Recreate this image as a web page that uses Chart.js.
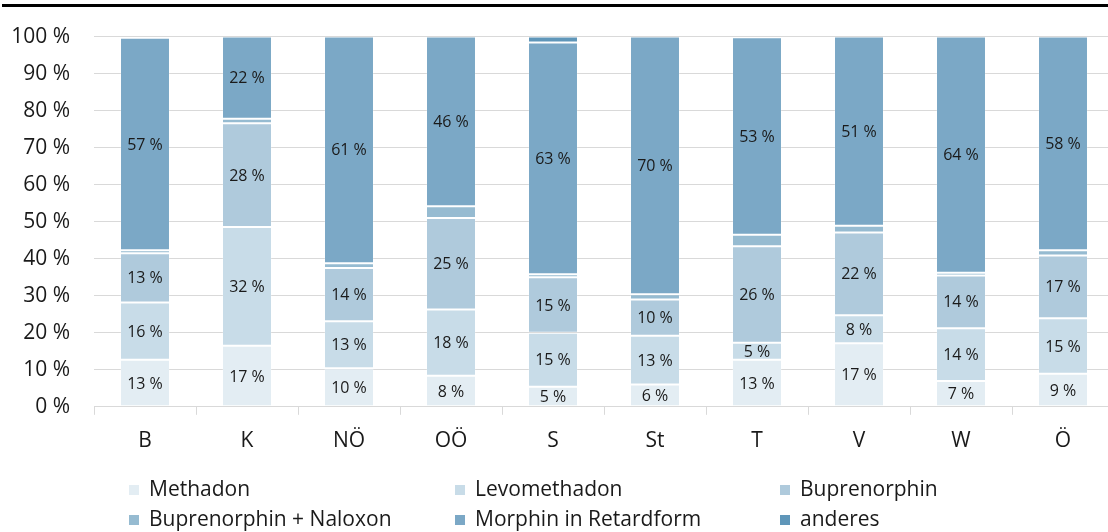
<!DOCTYPE html>
<html>
<head>
<meta charset="utf-8">
<script src="https://cdn.jsdelivr.net/npm/chart.js@4"></script>
<style>
    html, body { margin: 0; padding: 0; background: #fff; overflow: hidden; }
    #topline { position: absolute; left: 2px; top: 4px; width: 1106px; height: 3px; background: #000; }
    #wrap { position: absolute; left: 0; top: 0; width: 1114px; height: 532px; }
</style>
</head>
<body>
<div id="topline"></div>
<div id="wrap"><canvas id="graphCanvas" width="1114" height="532"></canvas></div>
<script>
// Bundeslaender
var categories = ['B', 'K', 'NÖ', 'OÖ', 'S', 'St', 'T', 'V', 'W', 'Ö'];

// Anteile in Prozent
var methadon      = [12.7, 16.5, 10.4,  8.4,  5.4,  6.0, 12.7, 17.2,  7.0,  8.9];
var levomethadon  = [15.5, 32.1, 12.7, 17.9, 14.6, 13.2,  4.6,  7.5, 14.2, 15.0];
var buprenorphin  = [13.3, 28.0, 14.4, 24.7, 15.0,  9.8, 26.1, 22.4, 14.3, 17.0];
var bupNaloxon    = [ 0.8,  1.2,  1.3,  3.2,  0.8,  1.4,  3.1,  1.8,  0.7,  1.4];
var morphin       = [57.4, 22.2, 61.2, 45.8, 62.6, 69.6, 53.3, 51.1, 63.8, 57.7];
var anderes       = [ 0.3,  0.0,  0.0,  0.0,  1.6,  0.0,  0.2,  0.0,  0.0,  0.0];

var yTicks = [0, 10, 20, 30, 40, 50, 60, 70, 80, 90, 100];

var fontFam = "'Open Sans', 'Noto Sans', sans-serif";

function ds(label, data, color) {
    return {
        label: label,
        data: data,
        backgroundColor: color,
        borderColor: 'rgba(255,255,255,0.18)',
        borderWidth: 1,
        borderSkipped: false,
        barPercentage: 0.98,
        categoryPercentage: 0.5
    };
}

// Beschriftung der Segmente
var segmentLabels = {
    id: 'segmentLabels',
    afterDatasetsDraw: function (chart) {
        var ctx = chart.ctx;
        ctx.save();
        ctx.font = '16px ' + fontFam;
        ctx.fillStyle = '#1a1a1a';
        ctx.textAlign = 'center';
        ctx.textBaseline = 'middle';
        chart.data.datasets.forEach(function (d, i) {
            var meta = chart.getDatasetMeta(i);
            meta.data.forEach(function (bar, j) {
                var v = d.data[j];
                if (v < 4) return;
                var p = bar.getProps(['x', 'y', 'base'], true);
                ctx.fillText(Math.round(v) + ' %', p.x, (p.y + p.base) / 2 + 1);
            });
        });
        ctx.restore();
    }
};

// Legende in drei Spalten
var gridLegend = {
    id: 'gridLegend',
    afterDraw: function (chart) {
        var ctx = chart.ctx;
        var colX = [129, 455, 780];
        var rowY = [490, 520];
        ctx.save();
        ctx.font = '21px ' + fontFam;
        ctx.textBaseline = 'middle';
        ctx.textAlign = 'left';
        chart.data.datasets.forEach(function (d, i) {
            var x = colX[i % 3];
            var y = rowY[Math.floor(i / 3)];
            ctx.fillStyle = d.backgroundColor;
            ctx.fillRect(x, y - 5, 10, 10);
            ctx.fillStyle = '#1a1a1a';
            ctx.fillText(d.label, x + 20, y);
        });
        ctx.restore();
    }
};

var chartdata = {
    labels: categories,
    datasets: [
        ds('Methadon', methadon, '#e3edf3'),
        ds('Levomethadon', levomethadon, '#c8dce8'),
        ds('Buprenorphin', buprenorphin, '#afcadc'),
        ds('Buprenorphin + Naloxon', bupNaloxon, '#96bbd1'),
        ds('Morphin in Retardform', morphin, '#7ba8c6'),
        ds('anderes', anderes, '#5f96b9')
    ]
};

window.grafica = new Chart(document.getElementById('graphCanvas'), {
    type: 'bar',
    data: chartdata,
    plugins: [segmentLabels, gridLegend],
    options: {
        responsive: false,
        animation: false,
        layout: { padding: { top: 28, right: 0, bottom: 64, left: 0 } },
        plugins: {
            legend: { display: false },
            tooltip: { enabled: false }
        },
        scales: {
            x: {
                stacked: true,
                grid: {
                    offset: true,
                    drawOnChartArea: false,
                    drawTicks: true,
                    tickLength: 8,
                    color: '#d9d9d9'
                },
                border: { display: true, color: '#d9d9d9' },
                ticks: {
                    color: '#1a1a1a',
                    font: { size: 21, family: fontFam },
                    padding: 14
                }
            },
            y: {
                stacked: true,
                min: 0,
                max: 100,
                afterBuildTicks: function (scale) {
                    scale.ticks = yTicks.map(function (v) { return { value: v }; });
                },
                afterFit: function (scale) { scale.width = 94; },
                grid: { color: '#d9d9d9', drawTicks: false },
                border: { display: false },
                ticks: {
                    color: '#1a1a1a',
                    font: { size: 21, family: fontFam },
                    padding: 24,
                    callback: function (v) { return v + ' %'; }
                }
            }
        }
    }
});
</script>
</body>
</html>
